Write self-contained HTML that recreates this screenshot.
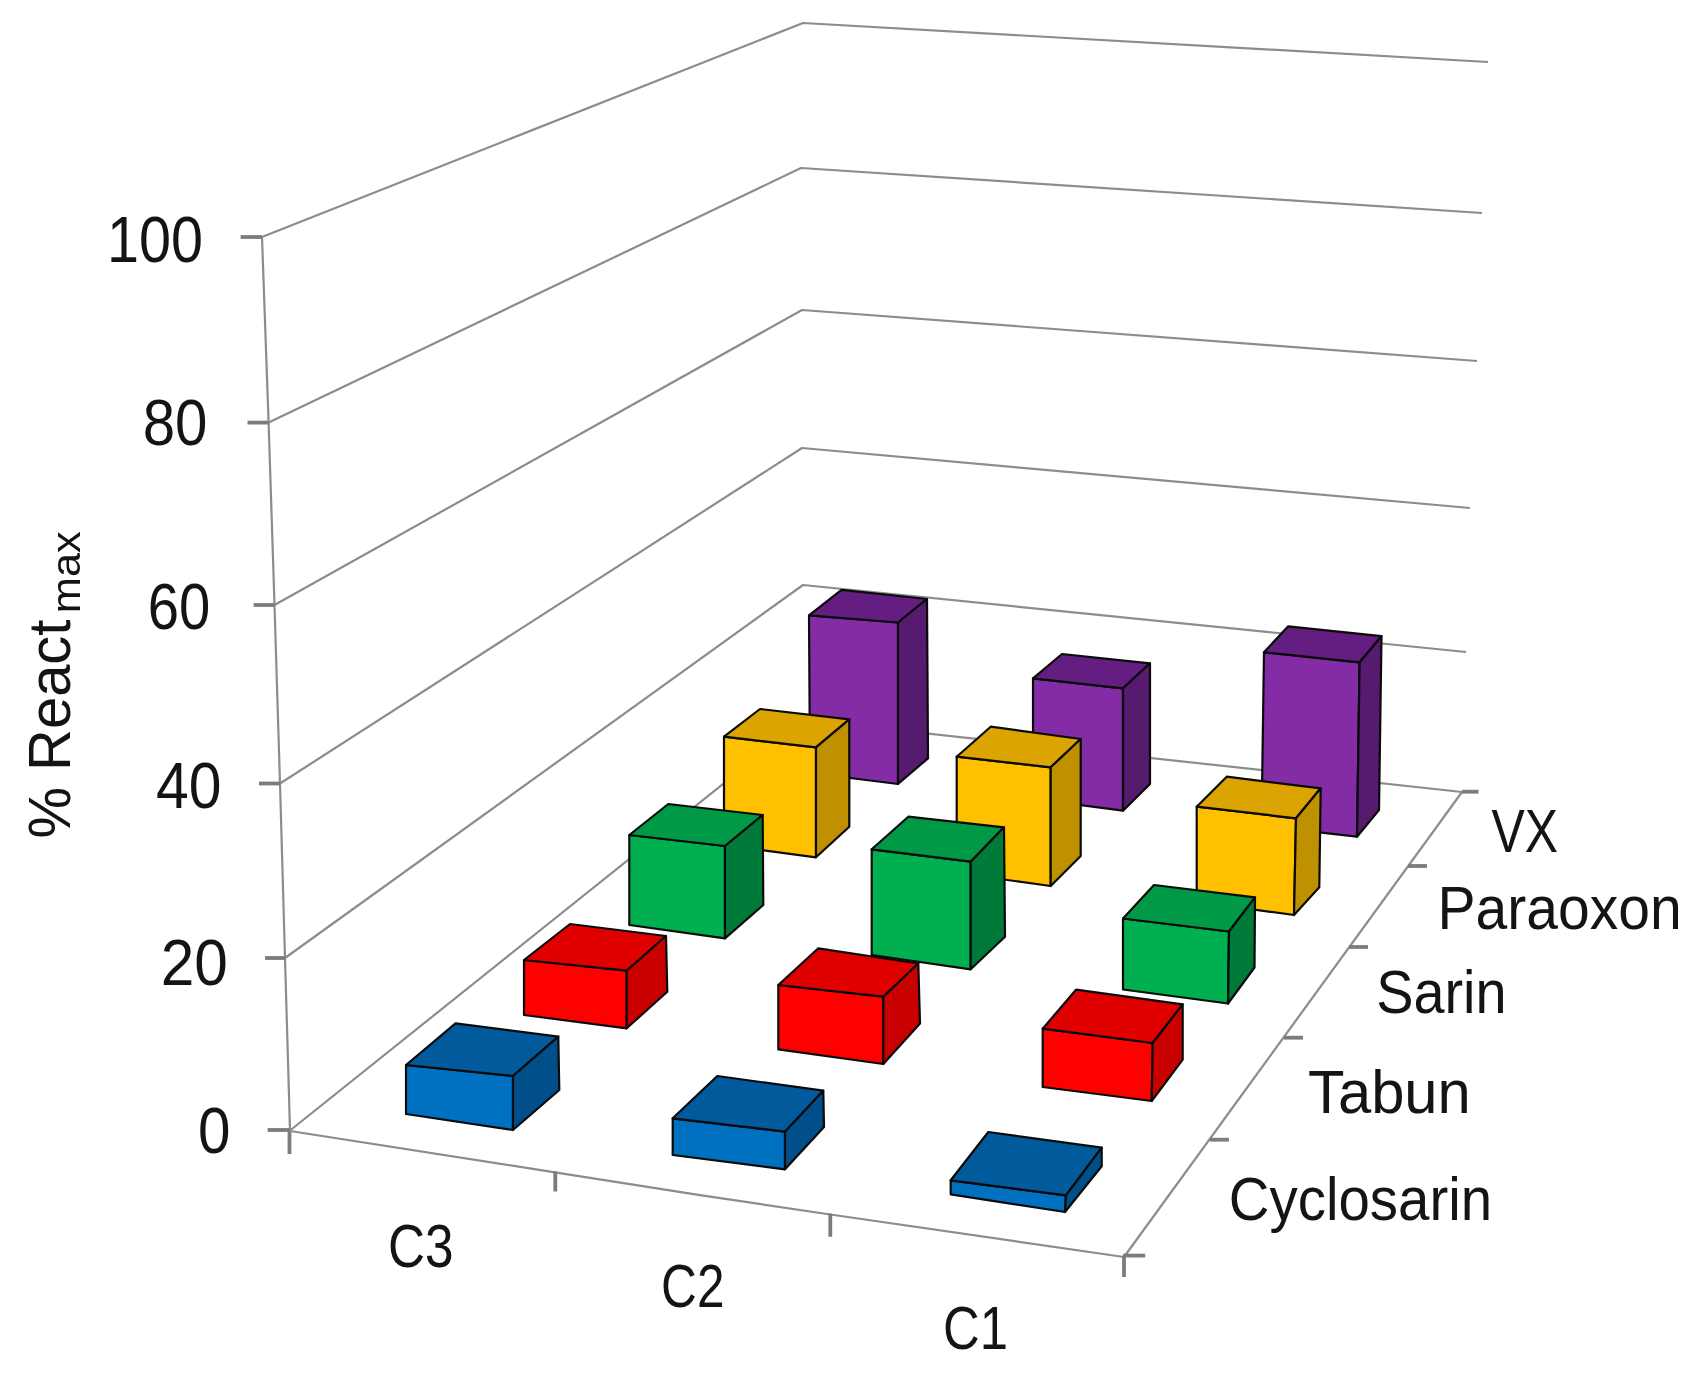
<!DOCTYPE html>
<html lang="en">
<head>
<meta charset="utf-8">
<title>React max chart</title>
<style>
html,body{margin:0;padding:0;background:#fff;}
body{width:1705px;height:1375px;overflow:hidden;}
svg{display:block;filter:blur(0.55px);}
</style>
</head>
<body>
<svg width="1705" height="1375" viewBox="0 0 1705 1375">
<rect width="1705" height="1375" fill="#fff"/>
<g fill="none" stroke="#8c8c8c" stroke-width="2.2" stroke-linecap="butt" stroke-linejoin="round">
<polyline points="262.0,237.0 803.0,23.0 1488.0,62.0"/>
<polyline points="268.6,422.6 801.0,168.0 1482.0,213.0"/>
<polyline points="274.5,605.0 802.0,310.0 1477.0,361.0"/>
<polyline points="280.0,783.5 802.0,448.0 1470.0,508.0"/>
<polyline points="285.0,958.0 803.0,585.0 1466.0,652.0"/>
<polyline points="290.0,1130.5 803.0,720.0 1462.0,792.0"/>
<polyline points="262,237 268.6,422.6 274.5,605 280,783.5 285,958 290,1130.5"/>
<line x1="289.5" y1="1130" x2="289.5" y2="1154" stroke-width="3.8" stroke="#7c7c7c"/>
<line x1="240.6" y1="237" x2="262" y2="237" stroke-width="3.8" stroke="#7c7c7c"/>
<line x1="247.5" y1="422.6" x2="268.6" y2="422.6" stroke-width="3.8" stroke="#7c7c7c"/>
<line x1="253.6" y1="605" x2="274.5" y2="605" stroke-width="3.8" stroke="#7c7c7c"/>
<line x1="259" y1="783.5" x2="280" y2="783.5" stroke-width="3.8" stroke="#7c7c7c"/>
<line x1="265" y1="958" x2="285" y2="958" stroke-width="3.8" stroke="#7c7c7c"/>
<line x1="267.6" y1="1130" x2="290" y2="1130" stroke-width="3.8" stroke="#7c7c7c"/>
<polyline points="290,1131 555,1172.3 700,1195.2 830.3,1214.5 1124,1257"/>
<line x1="555.3" y1="1171.5" x2="555.3" y2="1191.5" stroke-width="3.8" stroke="#7c7c7c"/>
<line x1="830.3" y1="1213.5" x2="830.3" y2="1236.8" stroke-width="3.8" stroke="#7c7c7c"/>
<line x1="1124" y1="1256" x2="1124" y2="1277" stroke-width="3.8" stroke="#7c7c7c"/>
<line x1="1124" y1="1257" x2="1462" y2="792"/>
<line x1="1123" y1="1255.6" x2="1145.2" y2="1255.6" stroke-width="3.8" stroke="#7c7c7c"/>
<line x1="1210" y1="1139.7" x2="1229" y2="1139.7" stroke-width="3.8" stroke="#7c7c7c"/>
<line x1="1284" y1="1037.7" x2="1303" y2="1037.7" stroke-width="3.8" stroke="#7c7c7c"/>
<line x1="1349" y1="947" x2="1368" y2="947" stroke-width="3.8" stroke="#7c7c7c"/>
<line x1="1408" y1="866" x2="1427" y2="866" stroke-width="3.8" stroke="#7c7c7c"/>
<line x1="1462" y1="791.7" x2="1478.5" y2="791.7" stroke-width="3.8" stroke="#7c7c7c"/>
</g>
<g stroke="#0a0a0a" stroke-width="2.2" stroke-linejoin="round">
<polygon points="809.0,615.3 898.0,622.5 898.0,784.0 810.0,773.0" fill="#842BA6"/>
<polygon points="809.0,615.3 841.5,589.8 927.0,599.0 898.0,622.5" fill="#641E82"/>
<polygon points="898.0,622.5 927.0,599.0 928.0,758.3 898.0,784.0" fill="#561A6E"/>
<polygon points="1033.0,678.3 1123.0,688.3 1123.0,810.7 1033.0,799.0" fill="#842BA6"/>
<polygon points="1033.0,678.3 1062.0,654.0 1150.0,663.3 1123.0,688.3" fill="#641E82"/>
<polygon points="1123.0,688.3 1150.0,663.3 1150.0,784.0 1123.0,810.7" fill="#561A6E"/>
<polygon points="1264.0,652.3 1359.6,662.3 1357.0,836.7 1261.5,826.0" fill="#842BA6"/>
<polygon points="1264.0,652.3 1288.0,626.4 1381.5,636.2 1359.6,662.3" fill="#641E82"/>
<polygon points="1359.6,662.3 1381.5,636.2 1379.0,810.0 1357.0,836.7" fill="#561A6E"/>
<polygon points="724.0,736.7 816.0,747.3 816.0,857.3 724.0,845.0" fill="#FFC000"/>
<polygon points="724.0,736.7 760.0,709.0 849.3,719.3 816.0,747.3" fill="#DBA400"/>
<polygon points="816.0,747.3 849.3,719.3 849.3,826.7 816.0,857.3" fill="#BF9000"/>
<polygon points="956.7,756.7 1050.7,767.3 1050.7,886.0 956.7,873.0" fill="#FFC000"/>
<polygon points="956.7,756.7 990.7,726.7 1080.7,739.0 1050.7,767.3" fill="#DBA400"/>
<polygon points="1050.7,767.3 1080.7,739.0 1080.7,856.0 1050.7,886.0" fill="#BF9000"/>
<polygon points="1196.7,806.7 1296.0,818.3 1294.0,915.0 1196.7,901.7" fill="#FFC000"/>
<polygon points="1196.7,806.7 1226.7,776.7 1320.7,788.3 1296.0,818.3" fill="#DBA400"/>
<polygon points="1296.0,818.3 1320.7,788.3 1319.3,887.3 1294.0,915.0" fill="#BF9000"/>
<polygon points="629.3,835.0 725.0,846.0 725.0,938.3 629.3,925.0" fill="#00B050"/>
<polygon points="629.3,835.0 668.3,804.0 762.7,815.0 725.0,846.0" fill="#009A46"/>
<polygon points="725.0,846.0 762.7,815.0 763.3,905.0 725.0,938.3" fill="#007A38"/>
<polygon points="871.7,849.3 970.7,861.7 970.7,969.3 871.7,955.0" fill="#00B050"/>
<polygon points="871.7,849.3 908.3,816.7 1004.0,827.3 970.7,861.7" fill="#009A46"/>
<polygon points="970.7,861.7 1004.0,827.3 1005.0,936.7 970.7,969.3" fill="#007A38"/>
<polygon points="1123.0,918.5 1229.0,931.5 1228.0,1003.5 1123.0,989.5" fill="#00B050"/>
<polygon points="1123.0,918.5 1154.0,885.0 1255.0,897.3 1229.0,931.5" fill="#009A46"/>
<polygon points="1229.0,931.5 1255.0,897.3 1254.5,967.5 1228.0,1003.5" fill="#007A38"/>
<polygon points="524.0,960.0 626.7,970.7 626.7,1028.3 524.0,1015.0" fill="#FF0000"/>
<polygon points="524.0,960.0 570.0,924.0 666.0,936.0 626.7,970.7" fill="#E00000"/>
<polygon points="626.7,970.7 666.0,936.0 667.3,991.7 626.7,1028.3" fill="#C80000"/>
<polygon points="778.3,985.0 883.3,996.7 883.3,1064.0 778.3,1049.3" fill="#FF0000"/>
<polygon points="778.3,985.0 818.3,948.3 918.3,963.5 883.3,996.7" fill="#E00000"/>
<polygon points="883.3,996.7 918.3,963.5 920.0,1023.5 883.3,1064.0" fill="#C80000"/>
<polygon points="1042.7,1028.7 1152.7,1043.0 1151.7,1101.0 1042.7,1087.0" fill="#FF0000"/>
<polygon points="1042.7,1028.7 1076.0,989.7 1182.7,1004.3 1152.7,1043.0" fill="#E00000"/>
<polygon points="1152.7,1043.0 1182.7,1004.3 1182.7,1059.7 1151.7,1101.0" fill="#C80000"/>
<polygon points="406.0,1065.0 513.0,1076.0 513.0,1130.0 406.0,1114.0" fill="#0070C0"/>
<polygon points="406.0,1065.0 455.5,1023.3 558.3,1036.7 513.0,1076.0" fill="#005A9C"/>
<polygon points="513.0,1076.0 558.3,1036.7 559.3,1090.0 513.0,1130.0" fill="#004F8A"/>
<polygon points="672.7,1118.3 785.0,1131.7 785.0,1169.3 672.7,1155.0" fill="#0070C0"/>
<polygon points="672.7,1118.3 717.3,1076.0 823.3,1090.7 785.0,1131.7" fill="#005A9C"/>
<polygon points="785.0,1131.7 823.3,1090.7 824.0,1127.0 785.0,1169.3" fill="#004F8A"/>
<polygon points="950.7,1180.3 1066.0,1195.3 1065.0,1212.0 950.7,1194.3" fill="#0070C0"/>
<polygon points="950.7,1180.3 988.3,1132.0 1101.7,1147.7 1066.0,1195.3" fill="#005A9C"/>
<polygon points="1066.0,1195.3 1101.7,1147.7 1101.7,1166.3 1065.0,1212.0" fill="#004F8A"/>
</g>
<g font-family="'Liberation Sans', sans-serif" font-size="57" fill="#141414" stroke="none">
<text transform="translate(106.90 262.20) scale(0.8993 1)" font-size="64">100</text>
<text transform="translate(142.68 445.20) scale(0.9098 1)" font-size="64">80</text>
<text transform="translate(147.86 628.70) scale(0.8785 1)" font-size="64">60</text>
<text transform="translate(156.08 808.20) scale(0.9185 1)" font-size="64">40</text>
<text transform="translate(160.77 985.30) scale(0.9430 1)" font-size="64">20</text>
<text transform="translate(197.98 1153.20) scale(0.9125 1)" font-size="64">0</text>
<text transform="translate(388.02 1266.90) scale(0.8268 1)" font-size="62">C3</text>
<text transform="translate(661.10 1306.90) scale(0.7997 1)" font-size="62">C2</text>
<text transform="translate(943.04 1348.90) scale(0.8201 1)" font-size="62">C1</text>
<text transform="translate(1491.50 852.00) scale(0.8180 1)" font-size="61">VX</text>
<text transform="translate(1437.53 929.20) scale(0.9350 1)" font-size="61">Paraoxon</text>
<text transform="translate(1376.17 1013.00) scale(0.9159 1)" font-size="61">Sarin</text>
<text transform="translate(1308.02 1112.70) scale(0.9797 1)" font-size="61">Tabun</text>
<text transform="translate(1228.72 1220.00) scale(0.9251 1)" font-size="61">Cyclosarin</text>
<text transform="translate(69.50 838.53) rotate(-90) scale(0.9658 1)" font-size="60">% React</text>
<text transform="translate(80.40 613.14) rotate(-90) scale(1.0705 1)" font-size="40.5">max</text>
</g>
</svg>
</body>
</html>
